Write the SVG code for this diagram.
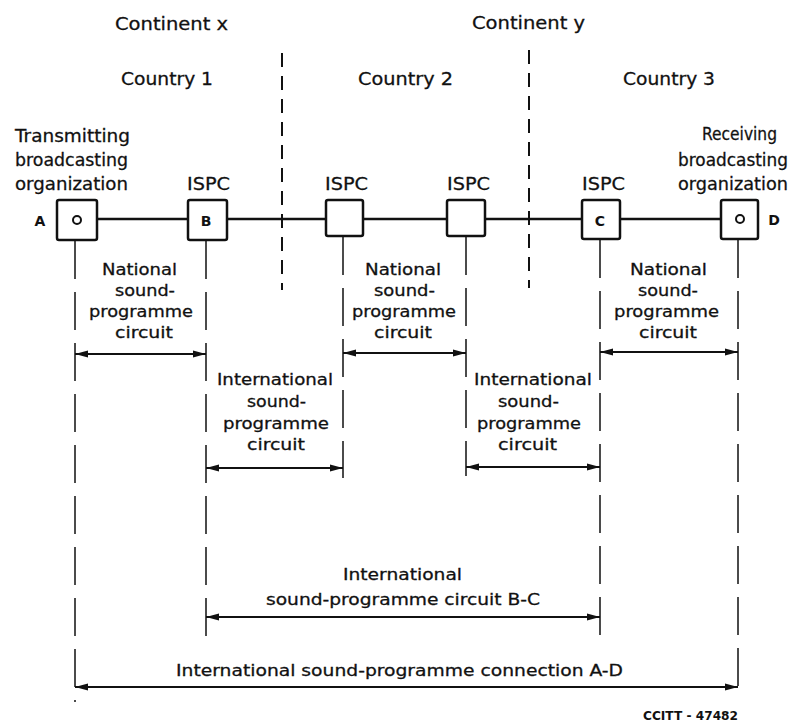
<svg xmlns="http://www.w3.org/2000/svg" width="795" height="724" viewBox="0 0 795 724">
<style>
text{font-family:"DejaVu Sans","Liberation Sans",sans-serif;fill:#111;stroke:#111;stroke-width:0.3;}
.h{font-size:18px}
.l{font-size:16px}
.s{font-size:14px;font-weight:bold;stroke-width:0}
.box{fill:#fff;stroke:#111;stroke-width:2.5}
.dot{fill:#fff;stroke:#111;stroke-width:2}
.div{stroke:#111;stroke-width:2;stroke-dasharray:14 9;fill:none}
.ext{stroke:#111;stroke-width:1.5;stroke-dasharray:38 13;fill:none}
.arr{stroke:#111;stroke-width:2;fill:none;marker-start:url(#ah);marker-end:url(#ah)}
.main{stroke:#111;stroke-width:2.5;fill:none}
</style>
<defs>
<marker id="ah" viewBox="0 0 13 8" refX="13" refY="4" markerWidth="13" markerHeight="8" markerUnits="userSpaceOnUse" orient="auto-start-reverse"><path d="M0,0.6 L13,4 L0,7.4 Z" fill="#111"/></marker>
</defs>
<rect width="795" height="724" fill="#fff"/>

<g id="headings">
<text class="h" x="115" y="30" textLength="113" lengthAdjust="spacingAndGlyphs">Continent x</text>
<text class="h" x="472" y="29" textLength="113" lengthAdjust="spacingAndGlyphs">Continent y</text>
<text class="h" x="121" y="85" textLength="92" lengthAdjust="spacingAndGlyphs">Country 1</text>
<text class="h" x="358" y="85" textLength="95" lengthAdjust="spacingAndGlyphs">Country 2</text>
<text class="h" x="623" y="85" textLength="92" lengthAdjust="spacingAndGlyphs">Country 3</text>
</g>

<g id="dividers">
<line class="div" x1="282" y1="53" x2="282" y2="290"/>
<line class="div" x1="529" y1="50" x2="529" y2="288"/>
</g>

<g id="connectors">
<path class="main" d="M81,219 H188 M227,219 H326 M363,219 H447 M485,219 H582 M620,219 H736"/>
<g id="extension-lines">
<line class="ext" x1="75" y1="241" x2="75" y2="702"/>
<line class="ext" x1="206" y1="241" x2="206" y2="638"/>
<line class="ext" x1="343" y1="237" x2="343" y2="478"/>
<line class="ext" x1="466" y1="237" x2="466" y2="476"/>
<line class="ext" x1="600" y1="240" x2="600" y2="638"/>
<line class="ext" x1="738" y1="240" x2="738" y2="695"/>
</g>
<g id="dimension-arrows">
<line class="arr" x1="75" y1="354" x2="206" y2="354"/>
<line class="arr" x1="343" y1="353" x2="466" y2="353"/>
<line class="arr" x1="600" y1="352" x2="738" y2="352"/>
<line class="arr" x1="206" y1="468" x2="343" y2="468"/>
<line class="arr" x1="466" y1="467" x2="600" y2="467"/>
<line class="arr" x1="206" y1="617" x2="600" y2="617"/>
<line class="arr" x1="75" y1="687" x2="738" y2="687"/>
</g>
</g>

<g id="node-A">
<text class="h" x="15" y="142" textLength="115" lengthAdjust="spacingAndGlyphs">Transmitting</text>
<text class="h" x="15" y="166" textLength="113" lengthAdjust="spacingAndGlyphs">broadcasting</text>
<text class="h" x="15" y="190" textLength="113" lengthAdjust="spacingAndGlyphs">organization</text>
<text class="s" x="40" y="226" text-anchor="middle">A</text>
<rect class="box" x="57" y="200" width="40" height="40" rx="2"/>
<circle class="dot" cx="77" cy="220" r="4"/>
</g>

<g id="node-B">
<text class="h" x="187" y="190" textLength="43" lengthAdjust="spacingAndGlyphs">ISPC</text>
<rect class="box" x="188" y="200" width="39" height="40" rx="2"/>
<text class="s" x="206" y="226" text-anchor="middle">B</text>
</g>

<g id="node-ISPC2">
<text class="h" x="325" y="190" textLength="43" lengthAdjust="spacingAndGlyphs">ISPC</text>
<rect class="box" x="326" y="200" width="37" height="36" rx="2"/>
</g>

<g id="node-ISPC3">
<text class="h" x="447" y="190" textLength="43" lengthAdjust="spacingAndGlyphs">ISPC</text>
<rect class="box" x="447" y="200" width="38" height="36" rx="2"/>
</g>

<g id="node-C">
<text class="h" x="582" y="190" textLength="43" lengthAdjust="spacingAndGlyphs">ISPC</text>
<rect class="box" x="582" y="200" width="38" height="39" rx="2"/>
<text class="s" x="600" y="226" text-anchor="middle">C</text>
</g>

<g id="node-D">
<text class="h" x="702" y="140" textLength="75" lengthAdjust="spacingAndGlyphs">Receiving</text>
<text class="h" x="678" y="166" textLength="110" lengthAdjust="spacingAndGlyphs">broadcasting</text>
<text class="h" x="678" y="190" textLength="110" lengthAdjust="spacingAndGlyphs">organization</text>
<rect class="box" x="721" y="200" width="37" height="39" rx="2"/>
<circle class="dot" cx="740" cy="219" r="4"/>
<text class="s" x="774" y="225" text-anchor="middle">D</text>
</g>

<g id="label-national-1">
<text class="l" x="102" y="275" textLength="75" lengthAdjust="spacingAndGlyphs">National</text>
<text class="l" x="115" y="296" textLength="60" lengthAdjust="spacingAndGlyphs">sound-</text>
<text class="l" x="89" y="317" textLength="104" lengthAdjust="spacingAndGlyphs">programme</text>
<text class="l" x="115" y="338" textLength="58" lengthAdjust="spacingAndGlyphs">circuit</text>
</g>

<g id="label-national-2">
<text class="l" x="365" y="275" textLength="76" lengthAdjust="spacingAndGlyphs">National</text>
<text class="l" x="374" y="296" textLength="61" lengthAdjust="spacingAndGlyphs">sound-</text>
<text class="l" x="352" y="317" textLength="104" lengthAdjust="spacingAndGlyphs">programme</text>
<text class="l" x="374" y="338" textLength="58" lengthAdjust="spacingAndGlyphs">circuit</text>
</g>

<g id="label-national-3">
<text class="l" x="630" y="275" textLength="77" lengthAdjust="spacingAndGlyphs">National</text>
<text class="l" x="638" y="296" textLength="60" lengthAdjust="spacingAndGlyphs">sound-</text>
<text class="l" x="614" y="317" textLength="105" lengthAdjust="spacingAndGlyphs">programme</text>
<text class="l" x="639" y="338" textLength="58" lengthAdjust="spacingAndGlyphs">circuit</text>
</g>

<g id="label-international-1">
<text class="l" x="217" y="385" textLength="116" lengthAdjust="spacingAndGlyphs">International</text>
<text class="l" x="247" y="407" textLength="59" lengthAdjust="spacingAndGlyphs">sound-</text>
<text class="l" x="223" y="429" textLength="106" lengthAdjust="spacingAndGlyphs">programme</text>
<text class="l" x="247" y="450" textLength="58" lengthAdjust="spacingAndGlyphs">circuit</text>
</g>

<g id="label-international-2">
<text class="l" x="474" y="385" textLength="118" lengthAdjust="spacingAndGlyphs">International</text>
<text class="l" x="498" y="407" textLength="61" lengthAdjust="spacingAndGlyphs">sound-</text>
<text class="l" x="477" y="429" textLength="104" lengthAdjust="spacingAndGlyphs">programme</text>
<text class="l" x="498" y="450" textLength="59" lengthAdjust="spacingAndGlyphs">circuit</text>
</g>

<g id="label-BC">
<text class="l" x="343" y="580" textLength="119" lengthAdjust="spacingAndGlyphs">International</text>
<text class="l" x="266" y="605" textLength="274" lengthAdjust="spacingAndGlyphs">sound-programme circuit B-C</text>
</g>

<g id="label-AD">
<text class="l" x="176" y="676" textLength="447" lengthAdjust="spacingAndGlyphs">International sound-programme connection A-D</text>
</g>

<text id="ref" x="643" y="720" font-size="12" font-weight="bold" textLength="95" lengthAdjust="spacingAndGlyphs" style="stroke-width:0">CCITT - 47482</text>
</svg>
